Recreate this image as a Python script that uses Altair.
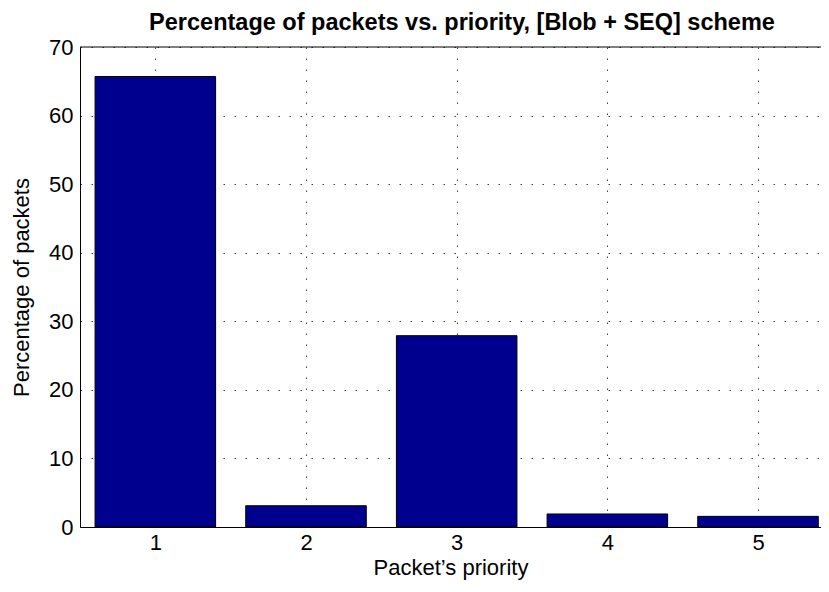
import altair as alt
import pandas as pd

priorities = [1, 2, 3, 4, 5]
percentages = [65.7, 3.1, 27.9, 1.9, 1.55]
x_ticks = [1, 2, 3, 4, 5]
y_ticks = [0, 10, 20, 30, 40, 50, 60, 70]
title_text = ["Percentage of packets vs. priority, [Blob + SEQ] scheme"]

df = pd.DataFrame({"priority": priorities, "pct": percentages})

FONT = "Liberation Sans"

xscale = alt.Scale(domain=[0.5, 5.418], nice=False, zero=False)
yscale = alt.Scale(domain=[0, 70], nice=False, zero=True)

bars = (
    alt.Chart(df)
    .transform_calculate(x0="datum.priority - 0.4", x1="datum.priority + 0.4", base="0")
    .mark_rect(color="#00008F", stroke="black", strokeWidth=1)
    .encode(
        x=alt.X(
            "x0:Q",
            scale=xscale,
            axis=alt.Axis(
                values=x_ticks,
                title="Packet’s priority",
                grid=True,
                labelPadding=5,
                titlePadding=4,
                format="d",
            ),
        ),
        x2="x1:Q",
        y=alt.Y(
            "pct:Q",
            scale=yscale,
            axis=alt.Axis(
                values=y_ticks,
                title="Percentage of packets",
                grid=True,
                labelPadding=7,
                titlePadding=15,
            ),
        ),
        y2="base:Q",
    )
)

top_border = (
    alt.Chart(pd.DataFrame({"top": [70]}))
    .mark_rule(color="black", strokeWidth=1)
    .encode(y=alt.value(0))
)

title_mark = (
    alt.Chart(pd.DataFrame({"t": title_text}))
    .mark_text(
        font=FONT,
        fontSize=23.5,
        fontWeight="bold",
        color="black",
        align="center",
        baseline="alphabetic",
    )
    .encode(text="t:N", x=alt.value(382), y=alt.value(-17.5))
)

chart = (
    alt.layer(bars, top_border, title_mark)
    .properties(
        width=741,
        height=480,
        padding={"left": 72, "top": 39, "right": 0, "bottom": 56},
        autosize="none",
    )
    .configure_view(stroke=None)
    .configure_axis(
        labelFont=FONT,
        labelFontSize=22,
        labelColor="black",
        titleFont=FONT,
        titleFontSize=22,
        titleFontWeight="normal",
        titleColor="black",
        domainColor="black",
        domainWidth=1,
        ticks=False,
        gridColor="#000000",
        gridOpacity=0.75,
        gridWidth=1,
        gridDash=[1.5, 9.5],
    )
)

chart.save("out.html", embed_options={"renderer": "svg", "actions": False})
